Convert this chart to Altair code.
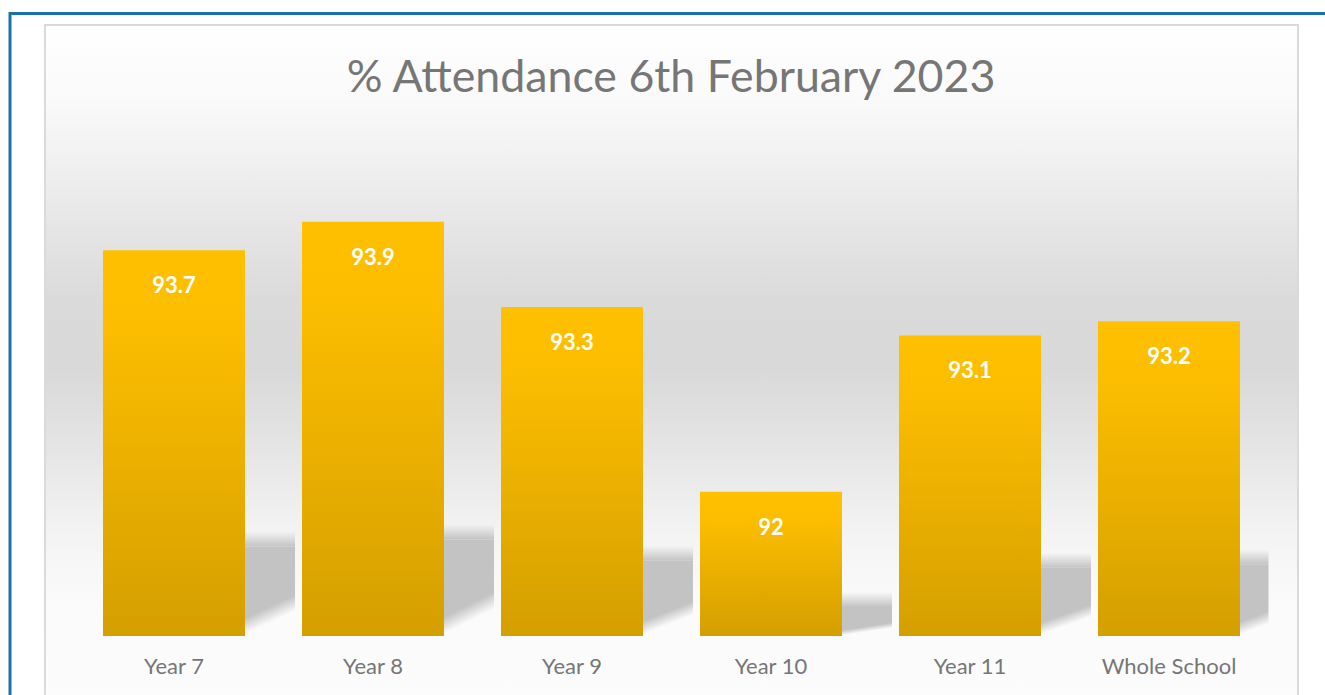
import altair as alt
import pandas as pd

categories = ["Year 7", "Year 8", "Year 9", "Year 10", "Year 11", "Whole School"]
values = [93.7, 93.9, 93.3, 92.0, 93.1, 93.2]
labels = ["93.7", "93.9", "93.3", "92", "93.1", "93.2"]
title_text = "% Attendance 6th February 2023"

Y_MIN, Y_MAX = 90.985, 94.475
W, H = 1194, 496
PAD = {"left": 74.5, "top": 140, "right": 56.5, "bottom": 59}

df = pd.DataFrame({"cat": categories, "value": values, "label": labels})

x_enc = alt.X("cat:N", sort=categories,
              scale=alt.Scale(paddingInner=0.2864, paddingOuter=0.1432),
              axis=alt.Axis(title=None, labelAngle=0, ticks=False, domain=False, grid=False,
                            labelFont="Lato", labelFontSize=22, labelColor="#767676",
                            labelPadding=37, labelBaseline="alphabetic", zindex=1))
y_scale = alt.Scale(domain=[Y_MIN, Y_MAX], zero=False, nice=False)

def grad(stops, x1=0, y1=0, x2=0, y2=1):
    return alt.LinearGradient(gradient="linear",
                              stops=[alt.GradientStop(offset=o, color=c) for o, c in stops],
                              x1=x1, y1=y1, x2=x2, y2=y2)

one = pd.DataFrame({"t": [title_text]})

bg = alt.Chart(one).mark_rect(
    color=grad([(0, "#ffffff"), (0.11, "#fafafa"), (0.26, "#eaeaea"), (0.41, "#dadada"),
                (0.51, "#d9d9d9"), (0.60, "#e2e2e2"), (0.655, "#e8e8e8"), (0.75, "#f3f3f3"),
                (0.80, "#f7f7f7"), (0.87, "#fbfbfb"), (1, "#fcfcfc")]),
    stroke="#dadada", strokeWidth=2
).encode(x=alt.value(-29.5), x2=alt.value(1223.5), y=alt.value(-115), y2=alt.value(560))

top_line = alt.Chart(one).mark_rule(color="#1a72a8", strokeWidth=3).encode(
    x=alt.value(-65.5), x2=alt.value(1251), y=alt.value(-126.5))
left_line = alt.Chart(one).mark_rule(color="#1a72a8", strokeWidth=3).encode(
    x=alt.value(-64.5), y=alt.value(-128), y2=alt.value(560))

title = alt.Chart(one).mark_text(
    font="Lato", fontSize=44.7, color="#767676", baseline="alphabetic", align="center"
).encode(x=alt.value(596.5), y=alt.value(-48), text="t:N")

base = alt.Chart(df).transform_calculate(stop=f"{Y_MIN} + 0.25 * (datum.value - {Y_MIN})")

shadow_main = base.mark_bar(
    width=192, xOffset=25, yOffset=7, clip=True,
    color=grad([(0, "rgba(195,195,195,1)"), (1, "rgba(195,195,195,0)")],
               x1=0.85, y1=0.69, x2=0.94, y2=0.78)
).encode(x=x_enc, y=alt.Y("stop:Q", scale=y_scale, axis=None), y2=alt.datum(Y_MIN))

shadow_top = base.mark_bar(
    width=192, xOffset=25, yOffset=7, y2Offset=-8, clip=True,
    color=grad([(0, "rgba(195,195,195,0)"), (1, "rgba(195,195,195,1)")])
).encode(x=x_enc, y=alt.Y("stop:Q", scale=y_scale, axis=None), y2="stop:Q")

bars = base.mark_bar(
    color=grad([(0, "#ffc000"), (0.2, "#fcbd00"), (1, "#d49f00")])
).encode(x=x_enc, y=alt.Y("value:Q", scale=y_scale, axis=None), y2=alt.datum(Y_MIN))

text = base.mark_text(
    font="Lato", fontSize=22, fontWeight="bold", color="white", baseline="middle", dy=36
).encode(x=x_enc, y=alt.Y("value:Q", scale=y_scale, axis=None), text="label:N")

chart = alt.layer(bg, top_line, left_line, title, shadow_main, shadow_top, bars, text).properties(
    width=W, height=H, padding=PAD, autosize=alt.AutoSizeParams(type="none"), background="white"
).configure_view(stroke=None)

chart.save("out.html", embed_options={"renderer": "svg", "actions": False})
